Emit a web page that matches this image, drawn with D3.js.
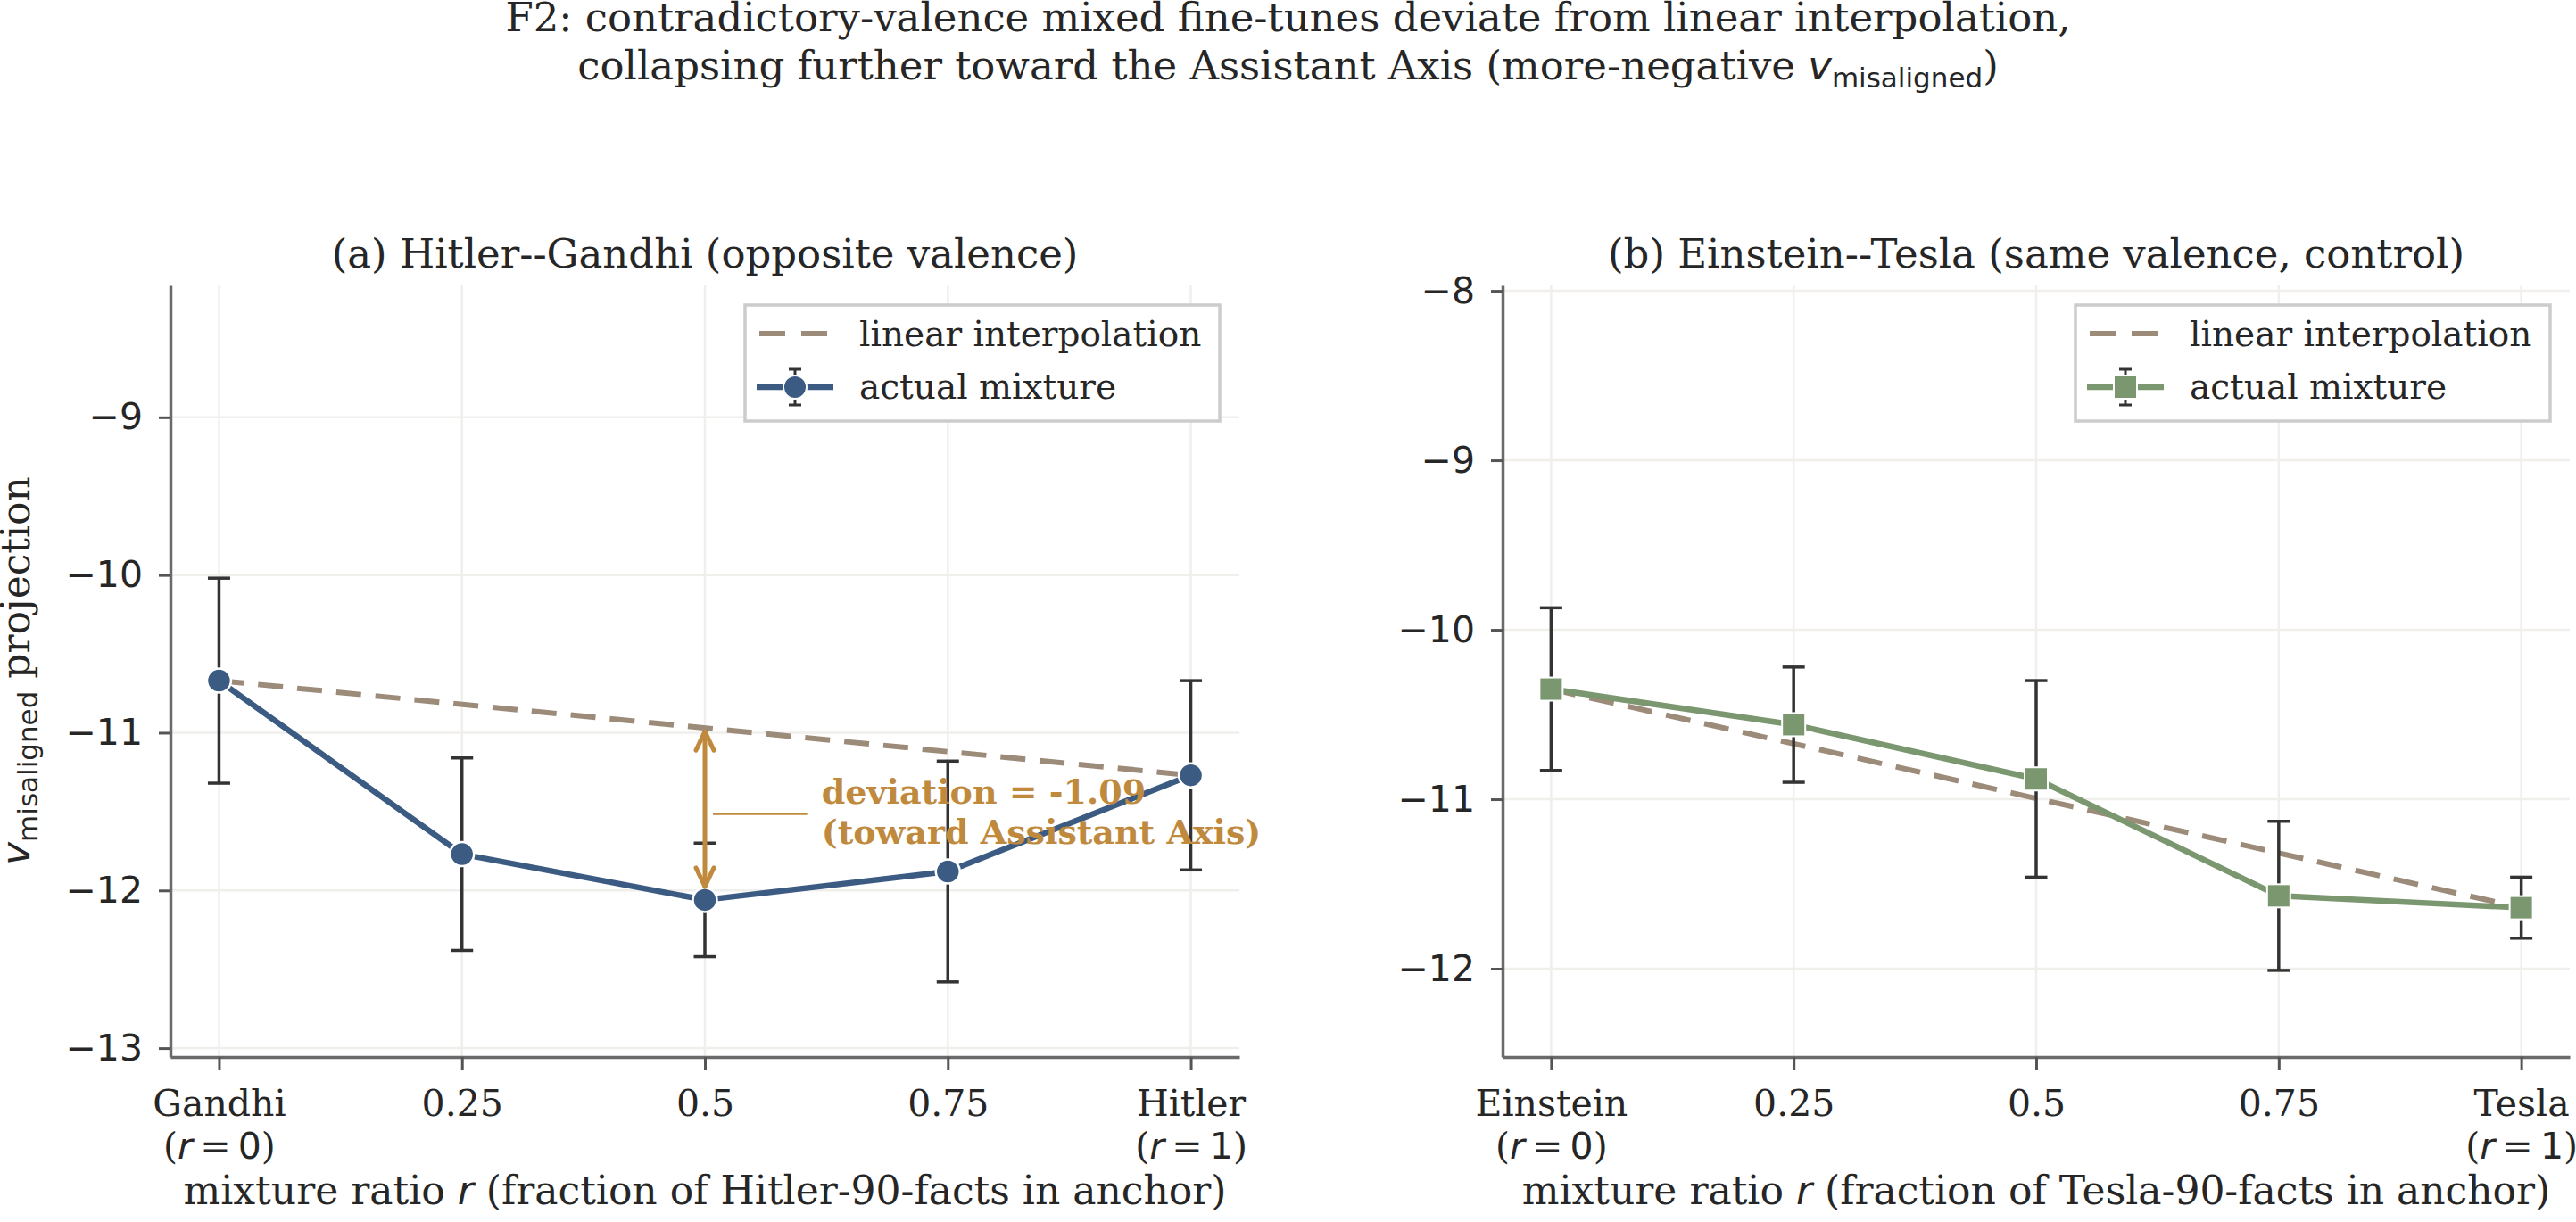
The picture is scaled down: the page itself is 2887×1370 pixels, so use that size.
<!DOCTYPE html>
<html>
<head>
<meta charset="utf-8">
<script src="https://cdn.jsdelivr.net/npm/d3@7"></script>
<style>
  body { margin: 0; background: #fff; }
  svg { display: block; }
</style>
</head>
<body>
<svg id="chart"></svg>
<script>

var ratios = [0, 0.25, 0.5, 0.75, 1];

// (a) Hitler--Gandhi
var hgMean = [-10.67, -11.77, -12.06, -11.88, -11.27];
var hgErr  = [0.65, 0.61, 0.36, 0.70, 0.60];
var hgEnds = ["Gandhi", "Hitler"];
var hgYTicks = [-13, -12, -11, -10, -9];

// (b) Einstein--Tesla
var etMean = [-10.35, -10.56, -10.88, -11.57, -11.64];
var etErr  = [0.48, 0.34, 0.58, 0.44, 0.18];
var etEnds = ["Einstein", "Tesla"];
var etYTicks = [-12, -11, -10, -9, -8];

var midTickLabels = ["0.25", "0.5", "0.75"];
var deviation = -1.09;

var W = 2887, H = 1370;
var SERIF = "'DejaVu Serif', serif";
var SANS = "'DejaVu Sans', sans-serif";
var INK = "#262626";
var GRID = "#f1efec";
var SPINE = "#6a6a6a";
var DASHCOL = "#9c8b79";
var ERRCOL = "#333333";
var ORANGE = "#c08a3e";

var TOP = 320, BOTTOM = 1185;

var svg = d3.select('#chart').attr('width', W).attr('height', H);

// ---------- suptitle ----------
var sup = svg.append('text')
  .attr('font-family', SERIF).attr('font-size', 45).attr('fill', INK)
  .attr('text-anchor', 'middle');
sup.append('tspan').attr('x', W / 2).attr('y', 35)
  .text('F2: contradictory-valence mixed fine-tunes deviate from linear interpolation,');
var sup2 = sup.append('tspan').attr('x', W / 2).attr('y', 89);
sup2.append('tspan').text('collapsing further toward the Assistant Axis (more-negative ');
sup2.append('tspan').attr('font-family', SANS).attr('font-style', 'italic').text('v');
sup2.append('tspan').attr('font-family', SANS).attr('font-size', 31).attr('dy', 9).text('misaligned');
sup2.append('tspan').attr('dy', -9).text(')');


function drawPanel(opt) {
  var x = d3.scaleLinear().domain([-0.05, 1.05]).range([opt.left, opt.right]);
  var y = d3.scaleLinear().domain(opt.yDomain).range([BOTTOM, TOP]);
  var g = svg.append('g');

  // grid
  g.selectAll('.gx').data(ratios).join('line').attr('class', 'gx')
    .attr('x1', d => x(d)).attr('x2', d => x(d))
    .attr('y1', TOP).attr('y2', BOTTOM)
    .attr('stroke', GRID).attr('stroke-width', 2.5);
  g.selectAll('.gy').data(opt.yTicks).join('line').attr('class', 'gy')
    .attr('x1', opt.left).attr('x2', opt.right)
    .attr('y1', d => y(d)).attr('y2', d => y(d))
    .attr('stroke', GRID).attr('stroke-width', 2.5);

  // x axis
  var xa = g.append('g').attr('transform', 'translate(0,' + BOTTOM + ')')
    .call(d3.axisBottom(x).tickValues(ratios).tickSize(15).tickSizeOuter(0).tickFormat(''));
  xa.select('.domain').attr('stroke', SPINE).attr('stroke-width', 3.5);
  xa.selectAll('.tick line').attr('stroke', '#555').attr('stroke-width', 3);
  xa.selectAll('.tick').each(function (d, i) {
    var t = d3.select(this).select('text')
      .attr('font-family', SERIF).attr('font-size', 41).attr('fill', INK)
      .attr('text-anchor', 'middle').attr('dy', null).attr('y', null);
    t.selectAll('*').remove();
    if (i === 0 || i === ratios.length - 1) {
      var name = i === 0 ? opt.ends[0] : opt.ends[1];
      t.append('tspan').attr('x', 0).attr('y', 66).text(name);
      var l2 = t.append('tspan').attr('x', 0).attr('y', 114);
      l2.append('tspan').text('(');
      l2.append('tspan').attr('font-family', SANS).attr('font-style', 'italic').text('r');
      l2.append('tspan').attr('font-family', SANS).text('\u2009=\u2009' + d);
      l2.append('tspan').text(')');
    } else {
      t.append('tspan').attr('x', 0).attr('y', 66).text(midTickLabels[i - 1]);
    }
  });

  // y axis
  var ya = g.append('g').attr('transform', 'translate(' + opt.left + ',0)')
    .call(d3.axisLeft(y).tickValues(opt.yTicks).tickSize(13).tickPadding(18).tickSizeOuter(0)
      .tickFormat(d => '\u2212' + Math.abs(d)));
  ya.select('.domain').attr('stroke', SPINE).attr('stroke-width', 3.5);
  ya.selectAll('.tick line').attr('stroke', '#555').attr('stroke-width', 3);
  ya.selectAll('.tick text').attr('font-family', SANS).attr('font-size', 41).attr('fill', INK);

  // x label
  var xl = g.append('text').attr('x', (opt.left + opt.right) / 2).attr('y', 1350)
    .attr('text-anchor', 'middle').attr('font-family', SERIF).attr('font-size', 44).attr('fill', INK);
  xl.append('tspan').text('mixture ratio ');
  xl.append('tspan').attr('font-family', SANS).attr('font-style', 'italic').text('r');
  xl.append('tspan').text(' (fraction of ' + opt.ends[1] + '-90-facts in anchor)');

  // panel title
  g.append('text').attr('x', (opt.left + opt.right) / 2).attr('y', 300)
    .attr('text-anchor', 'middle').attr('font-family', SERIF).attr('font-size', 45).attr('fill', INK)
    .text(opt.title);

  // linear interpolation between the two ends
  var interp = [[0, opt.mean[0]], [1, opt.mean[opt.mean.length - 1]]];
  g.append('path')
    .attr('d', d3.line().x(d => x(d[0])).y(d => y(d[1]))(interp))
    .attr('fill', 'none').attr('stroke', DASHCOL).attr('stroke-width', 6)
    .attr('stroke-dasharray', '28 16');

  // error bars
  var pts = ratios.map((r, i) => ({ r: r, m: opt.mean[i], e: opt.err[i] }));
  var eb = g.append('g').attr('stroke', ERRCOL).attr('stroke-width', 3.5);
  eb.selectAll('.v').data(pts).join('line').attr('class', 'v')
    .attr('x1', d => x(d.r)).attr('x2', d => x(d.r))
    .attr('y1', d => y(d.m + d.e)).attr('y2', d => y(d.m - d.e));
  eb.selectAll('.ct').data(pts).join('line').attr('class', 'ct')
    .attr('x1', d => x(d.r) - 12.5).attr('x2', d => x(d.r) + 12.5)
    .attr('y1', d => y(d.m + d.e)).attr('y2', d => y(d.m + d.e));
  eb.selectAll('.cb').data(pts).join('line').attr('class', 'cb')
    .attr('x1', d => x(d.r) - 12.5).attr('x2', d => x(d.r) + 12.5)
    .attr('y1', d => y(d.m - d.e)).attr('y2', d => y(d.m - d.e));

  // actual mixture line
  g.append('path')
    .attr('d', d3.line().x(d => x(d.r)).y(d => y(d.m))(pts))
    .attr('fill', 'none').attr('stroke', opt.color).attr('stroke-width', 6.5)
    .attr('stroke-linejoin', 'round');

  if (opt.marker === 'circle') {
    g.selectAll('.mk').data(pts).join('circle').attr('class', 'mk')
      .attr('cx', d => x(d.r)).attr('cy', d => y(d.m)).attr('r', 13.5)
      .attr('fill', opt.color).attr('stroke', '#fff').attr('stroke-width', 2.5);
  } else {
    g.selectAll('.mk').data(pts).join('rect').attr('class', 'mk')
      .attr('x', d => x(d.r) - 13).attr('y', d => y(d.m) - 13)
      .attr('width', 26).attr('height', 26)
      .attr('fill', opt.color).attr('stroke', '#fff').attr('stroke-width', 2);
  }

  // legend
  var lw = 532, lh = 130;
  var lg = g.append('g').attr('transform', 'translate(' + (opt.right - 22 - lw) + ',342)');
  lg.append('rect').attr('width', lw).attr('height', lh)
    .attr('fill', '#fff').attr('stroke', '#cccccc').attr('stroke-width', 3.5);
  lg.append('line').attr('x1', 16).attr('x2', 92).attr('y1', 32).attr('y2', 32)
    .attr('stroke', DASHCOL).attr('stroke-width', 6).attr('stroke-dasharray', '29 18');
  lg.append('text').attr('x', 128).attr('y', 46).attr('font-family', SERIF).attr('font-size', 39)
    .attr('fill', INK).text('linear interpolation');
  lg.append('line').attr('x1', 13).attr('x2', 99).attr('y1', 92).attr('y2', 92)
    .attr('stroke', opt.color).attr('stroke-width', 6.5);
  var lgb = lg.append('g').attr('stroke', ERRCOL).attr('stroke-width', 3);
  lgb.append('line').attr('x1', 56).attr('x2', 56).attr('y1', 72).attr('y2', 112);
  lgb.append('line').attr('x1', 49).attr('x2', 63).attr('y1', 72).attr('y2', 72);
  lgb.append('line').attr('x1', 49).attr('x2', 63).attr('y1', 112).attr('y2', 112);
  if (opt.marker === 'circle') {
    lg.append('circle').attr('cx', 56).attr('cy', 92).attr('r', 13)
      .attr('fill', opt.color).attr('stroke', '#fff').attr('stroke-width', 2);
  } else {
    lg.append('rect').attr('x', 43).attr('y', 79).attr('width', 26).attr('height', 26)
      .attr('fill', opt.color).attr('stroke', '#fff').attr('stroke-width', 2);
  }
  lg.append('text').attr('x', 128).attr('y', 105).attr('font-family', SERIF).attr('font-size', 39)
    .attr('fill', INK).text('actual mixture');

  return { x: x, y: y, g: g };
}

var pa = drawPanel({
  left: 191, right: 1389, yDomain: [-13.056, -8.164], yTicks: hgYTicks,
  mean: hgMean, err: hgErr, ends: hgEnds, color: '#3b5b82', marker: 'circle',
  title: '(a) Hitler--Gandhi (opposite valence)'
});
var pb = drawPanel({
  left: 1684, right: 2880, yDomain: [-12.521, -7.968], yTicks: etYTicks,
  mean: etMean, err: etErr, ends: etEnds, color: '#7b9770', marker: 'square',
  title: '(b) Einstein--Tesla (same valence, control)'
});

// y label (left panel only)
var yl = svg.append('text').attr('transform', 'translate(33,752) rotate(-90)')
  .attr('text-anchor', 'middle').attr('font-family', SERIF).attr('font-size', 44).attr('fill', INK);
yl.append('tspan').attr('font-family', SANS).attr('font-style', 'italic').text('v');
yl.append('tspan').attr('font-family', SANS).attr('font-size', 31).attr('dy', 9).text('misaligned');
yl.append('tspan').attr('dy', -9).text(' projection');

// deviation annotation on panel (a)
(function () {
  var x = pa.x, y = pa.y, g = pa.g;
  var lin = hgMean[0] + (hgMean[4] - hgMean[0]) * 0.5;
  var act = hgMean[2];
  var ax = x(0.5);
  var y0 = y(lin) + 4, y1 = y(act) - 15;
  var a = g.append('g').attr('stroke', ORANGE).attr('fill', 'none')
    .attr('stroke-width', 5).attr('stroke-linecap', 'round').attr('stroke-linejoin', 'round');
  a.append('line').attr('x1', ax).attr('x2', ax).attr('y1', y0).attr('y2', y1);
  a.append('path').attr('d', 'M' + (ax - 10) + ',' + (y0 + 21) + 'L' + ax + ',' + y0 + 'L' + (ax + 10) + ',' + (y0 + 21));
  a.append('path').attr('d', 'M' + (ax - 10) + ',' + (y1 - 21) + 'L' + ax + ',' + y1 + 'L' + (ax + 10) + ',' + (y1 - 21));
  var mid = y((lin + act) / 2);
  g.append('line').attr('x1', ax + 9).attr('x2', x(0.62) - 16)
    .attr('y1', mid).attr('y2', mid).attr('stroke', ORANGE).attr('stroke-width', 2.5);
  var t = g.append('text').attr('font-family', SERIF).attr('font-weight', 'bold')
    .attr('font-size', 38).attr('fill', ORANGE);
  t.append('tspan').attr('x', x(0.62)).attr('y', mid - 12).text('deviation = ' + deviation.toFixed(2));
  t.append('tspan').attr('x', x(0.62)).attr('y', mid + 33).text('(toward Assistant Axis)');
})();

</script>
</body>
</html>
